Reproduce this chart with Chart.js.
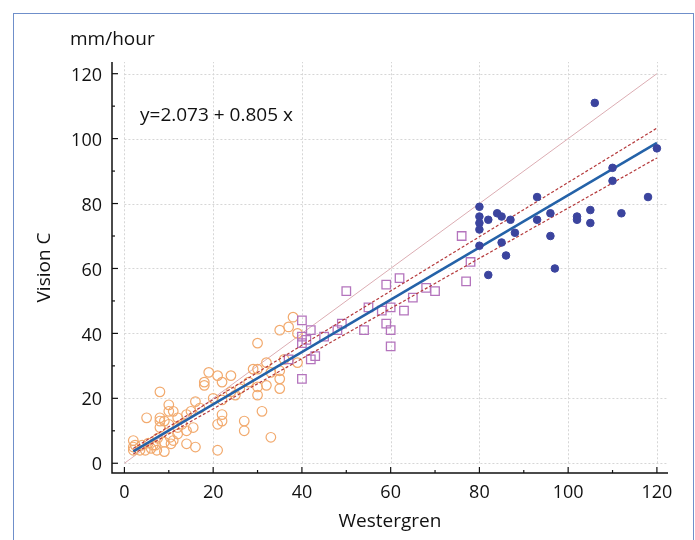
<!DOCTYPE html>
<html><head><meta charset="utf-8">
<script src="https://cdn.jsdelivr.net/npm/chart.js@4"></script>
<style>
html,body{margin:0;padding:0;background:#fff;width:695px;height:540px;overflow:hidden}
#wrap{position:relative;width:695px;height:540px}
#frame{position:absolute;left:13px;top:13px;width:681px;height:600px;border:1.5px solid #6f8fca;box-sizing:border-box}
canvas{position:absolute;left:0;top:0}
</style></head><body>
<div id="wrap"><div id="frame"></div><canvas id="c" width="695" height="540"></canvas></div>
<script>
// ---- data ----
const lowX = [38,37,35,39,39,30,32,29,30,35,35,35,32,30,30,31,33,27,27,24,22,21,19,18,18,25,22,16,15,14,22,22,21,15.5,14,14,16,21,8,10,10,11,5,8,8,9,12,13,10,8,11,9,7.5,9,2,2.4,2,3.5,4.7,6,7,5.4,4,7.3,10.5,12,10.3,6.5,2,26,28,33,36,20,17,12,24];
const lowY = [45,42,41,40,31,37,31,29,29,28.5,26,23,24,23.5,21,16,8,13,10,27,25,27,28,25,24,21,19.5,19,16,15,15,13,12,11,10,6,5,4,22,18,16,16,14,14,13,13,14,12,12,11,7,6.5,7.7,3.6,7,5.6,4,4,4,4.6,5.6,6.2,5.6,4,6,11,8,5.6,5,23,25,28,32,20,17,9,22];
const midX = [50,59,62,68,70,65,55,58,60,63,59,60,60,54,49,48,45,42,40,40,41,40,43,42,40,76,78,77,37];
const midY = [53,55,57,54,53,51,48,47,48,47,43,41,36,41,43,41,39,41,44,39,38,37,33,32,26,70,62,56,32];
const highX = [106,120,110,110,118,93,80,80,80,80,80,82,84,85,87,88,85,86,82,93,96,96,97,102,102,105,105,112];
const highY = [111,97,91,87,82,82,79,76,74,72,67,75,77,76,75,71,68,64,58,75,77,70,60,76,75,78,74,77];
const identityLine = {x:[0,120], y:[0,120]};
const regIntercept = 2.073, regSlope = 0.805;
const regRange = [2,120];
const upperCI = {intercept:2.9, slope:0.836};
const lowerCI = {intercept:1.3, slope:0.773};
const xTicks = [0,20,40,60,80,100,120];
const yTicks = [0,20,40,60,80,100,120];
const minorTicks = [10,30,50,70,90,110];
const equationText = 'y=2.073 + 0.805 x';
const unitText = 'mm/hour';
const xTitle = 'Westergren';
const yTitle = 'Vision C';

const pts = (X,Y)=>X.map((x,i)=>({x:x,y:Y[i]}));
const lineFrom = (a,b)=>regRange.map(x=>({x:x,y:a+b*x}));

const FONT = '"Open Sans", "Noto Sans", sans-serif';

const decor = {
  id:'decor',
  beforeDatasetsDraw(chart){
    const ctx = chart.ctx, xs = chart.scales.x, ys = chart.scales.y, ca = chart.chartArea;
    ctx.save();
    // grid
    ctx.strokeStyle = '#d6d6d6'; ctx.lineWidth = 1; ctx.setLineDash([2,2]);
    const x0 = xs.getPixelForValue(0), y0 = ys.getPixelForValue(0);
    yTicks.forEach(v=>{const p=Math.round(ys.getPixelForValue(v))+0.5;ctx.beginPath();ctx.moveTo(x0,p);ctx.lineTo(ca.right,p);ctx.stroke();});
    xTicks.forEach(v=>{const p=Math.round(xs.getPixelForValue(v))+0.5;ctx.beginPath();ctx.moveTo(p,y0);ctx.lineTo(p,ca.top);ctx.stroke();});
    ctx.setLineDash([]);
    // axes
    ctx.strokeStyle = '#111'; ctx.lineWidth = 1.5;
    ctx.beginPath(); ctx.moveTo(ca.left, ca.top); ctx.lineTo(ca.left, ca.bottom); ctx.lineTo(ca.right, ca.bottom); ctx.stroke();
    ctx.lineWidth = 1.2;
    xTicks.forEach(v=>{const p=xs.getPixelForValue(v);ctx.beginPath();ctx.moveTo(p,ca.bottom);ctx.lineTo(p,ca.bottom-6);ctx.stroke();});
    minorTicks.forEach(v=>{const p=xs.getPixelForValue(v);ctx.beginPath();ctx.moveTo(p,ca.bottom);ctx.lineTo(p,ca.bottom-3);ctx.stroke();});
    yTicks.forEach(v=>{const p=ys.getPixelForValue(v);ctx.beginPath();ctx.moveTo(ca.left,p);ctx.lineTo(ca.left+6,p);ctx.stroke();});
    minorTicks.forEach(v=>{const p=ys.getPixelForValue(v);ctx.beginPath();ctx.moveTo(ca.left,p);ctx.lineTo(ca.left+3,p);ctx.stroke();});
    ctx.restore();
  },
  afterDraw(chart){
    const ctx = chart.ctx, ca = chart.chartArea;
    ctx.save();
    ctx.fillStyle = '#111';
    ctx.font = '19px ' + FONT;
    ctx.textBaseline = 'middle'; ctx.textAlign = 'left';
    ctx.fillText(unitText, 70, 40);
    ctx.fillText(equationText, 140, 116);
    ctx.textAlign = 'center';
    ctx.fillText(xTitle, (ca.left+ca.right)/2, 522);
    ctx.translate(45, (ca.top+ca.bottom)/2);
    ctx.rotate(-Math.PI/2);
    ctx.fillText(yTitle, 0, 0);
    ctx.restore();
  }
};

new Chart(document.getElementById('c'), {
  type:'scatter',
  data:{datasets:[
    {label:'high', data:pts(highX,highY), pointStyle:'circle', pointRadius:3.8, backgroundColor:'#3b449e', borderColor:'#3b449e', borderWidth:1, order:0},
    {label:'reg', type:'line', data:lineFrom(regIntercept,regSlope), borderColor:'#2462a8', borderWidth:2.5, pointRadius:0, fill:false, order:1},
    {label:'ciU', type:'line', data:lineFrom(upperCI.intercept,upperCI.slope), borderColor:'#b53a3c', borderWidth:1.2, borderDash:[3,2], pointRadius:0, fill:false, order:2},
    {label:'ciL', type:'line', data:lineFrom(lowerCI.intercept,lowerCI.slope), borderColor:'#b53a3c', borderWidth:1.2, borderDash:[3,2], pointRadius:0, fill:false, order:3},
    {label:'mid', data:pts(midX,midY), pointStyle:'rect', pointRadius:6, backgroundColor:'rgba(0,0,0,0)', borderColor:'#b474bd', borderWidth:1.3, order:4},
    {label:'low', data:pts(lowX,lowY), pointStyle:'circle', pointRadius:4.8, backgroundColor:'rgba(0,0,0,0)', borderColor:'#f2aa6e', borderWidth:1.2, order:5},
    {label:'identity', type:'line', data:pts(identityLine.x,identityLine.y), borderColor:'#dcadb3', borderWidth:1, pointRadius:0, fill:false, order:6}
  ]},
  options:{
    responsive:false, devicePixelRatio:1, animation:false,
    layout:{padding:{left:0,top:62,right:27,bottom:0}},
    plugins:{legend:{display:false}, tooltip:{enabled:false}},
    scales:{
      x:{type:'linear', min:-2.8, max:122.5,
         ticks:{stepSize:20, includeBounds:false, padding:9, color:'#111', font:{family:FONT, size:18}, maxRotation:0},
         grid:{display:false, drawTicks:false}, border:{display:false},
         afterFit(s){s.height=67;}},
      y:{type:'linear', min:-3, max:123.6,
         ticks:{stepSize:20, includeBounds:false, padding:10, labelOffset:2, color:'#111', font:{family:FONT, size:18}},
         grid:{display:false, drawTicks:false}, border:{display:false},
         afterFit(s){s.width=112;}}
    }
  },
  plugins:[decor]
});
</script></body></html>
